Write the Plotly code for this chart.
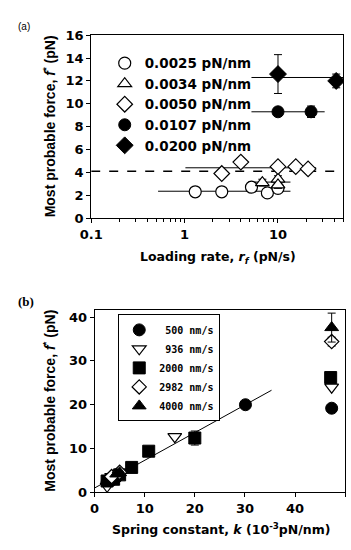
import plotly.graph_objects as go

W, H = 351, 550

# ---------------- Panel (a) data ----------------
a_names = ["0.0025 pN/nm", "0.0034 pN/nm", "0.0050 pN/nm", "0.0107 pN/nm", "0.0200 pN/nm"]
a1_x = [1.3, 2.5, 5.2, 7.7, 10.0]
a1_y = [2.3, 2.3, 2.7, 2.2, 2.6]
a1_e = [0.2, 0.2, 0.2, 0.3, 0.3]
a2_x = [6.8, 10.0, 10.0]
a2_y = [3.1, 3.4, 2.9]
a2_e = [0.3, 0.3, 0.3]
a3_x = [2.5, 4.0, 10.0, 15.5, 21.0]
a3_y = [3.9, 4.9, 4.5, 4.5, 4.3]
a3_e = [0.2, 0.2, 0.2, 0.2, 0.2]
a4_x = [10.0, 22.6]
a4_y = [9.3, 9.3]
a4_e = [0.3, 0.5]
a5_x = [10.0, 42.0]
a5_y = [12.6, 12.0]
a5_e = [1.7, 0.6]

# mean lines (x-extent and level) per series
a1_line_x = [0.52, 13.6]
a1_line_y = [2.35, 2.35]
a2_line_x = [4.8, 13.6]
a2_line_y = [3.15, 3.15]
a3_line_x = [1.02, 25.6]
a3_line_y = [4.4, 4.4]
a4_line_x = [5.2, 31.6]
a4_line_y = [9.3, 9.3]
a5_line_x = [5.2, 50.0]
a5_line_y = [12.3, 12.3]
dash_x = [0.1, 50.0]
dash_y = [4.1, 4.1]

a_xticks = [0.1, 1, 10]
a_xticktext = ["0.1", "1", "10"]
a_yticks = [0, 2, 4, 6, 8, 10, 12, 14, 16]

# ---------------- Panel (b) data ----------------
b_names = [" 500 nm/s", " 936 nm/s", "2000 nm/s", "2982 nm/s", "4000 nm/s"]
b1_x = [2.5, 3.4, 4.4, 30.1, 47.3]
b1_y = [2.3, 2.8, 3.5, 20.0, 19.2]
b2_x = [2.5, 3.4, 16.0, 47.3]
b2_y = [1.4, 3.6, 12.7, 24.0]
b3_x = [2.5, 3.8, 5.0, 7.4, 10.8, 20.0, 47.1]
b3_y = [2.6, 3.0, 4.0, 5.7, 9.4, 12.4, 26.2]
b3_e = [0, 0, 0, 0, 0, 1.6, 0]
b4_x = [3.4, 5.0, 47.3]
b4_y = [3.6, 4.6, 34.4]
b4_e = [0, 0, 1.0]
b5_x = [4.4, 5.0, 47.3]
b5_y = [4.2, 4.5, 37.6]
b5_e = [0, 0, 3.3]
fit_x = [0.0, 35.3]
fit_y = [1.0, 23.3]

b_xticks = [0, 10, 20, 30, 40, 50]
b_yticks = [0, 10, 20, 30, 40]

# ---------------- layout helpers ----------------
def px_x(p):
    return p / W

def px_y(p):
    return 1 - p / H

BOLD_H = dict(family="DejaVu Sans", size=12.5, color="black", weight="bold")
TICK_F = dict(family="DejaVu Sans", size=13, color="black", weight="bold")
BOLD_V = dict(family="Liberation Sans", size=14, color="black", weight="bold")

fig = go.Figure()

def err(vals, w=3):
    return dict(type="data", array=vals, visible=True, color="black", thickness=1, width=w)

# panel (a) lines
for lx, ly in [(a1_line_x, a1_line_y), (a2_line_x, a2_line_y), (a3_line_x, a3_line_y),
               (a4_line_x, a4_line_y), (a5_line_x, a5_line_y)]:
    fig.add_trace(go.Scatter(x=lx, y=ly, mode="lines", line=dict(color="black", width=1),
                             showlegend=False, hoverinfo="skip", xaxis="x", yaxis="y"))
fig.add_trace(go.Scatter(x=dash_x, y=dash_y, mode="lines",
                         line=dict(color="black", width=1.5, dash="dash"),
                         showlegend=False, hoverinfo="skip", xaxis="x", yaxis="y"))

open_m = dict(color="white", line=dict(color="black", width=1.2))
a_specs = [
    (a1_x, a1_y, a1_e, "circle", 12, open_m),
    (a2_x, a2_y, a2_e, "triangle-up", 12, open_m),
    (a3_x, a3_y, a3_e, "diamond", 12, open_m),
    (a4_x, a4_y, a4_e, "circle", 12, dict(color="black", line=dict(color="black", width=1))),
    (a5_x, a5_y, a5_e, "diamond", 13, dict(color="black", line=dict(color="black", width=1))),
]
for name, (x, y, e, sym, size, m) in zip(a_names, a_specs):
    fig.add_trace(go.Scatter(x=x, y=y, mode="markers", name=name,
                             marker=dict(symbol=sym, size=size, **m),
                             error_y=err(e, 4), legend="legend",
                             xaxis="x", yaxis="y"))

# panel (b)
fig.add_trace(go.Scatter(x=fit_x, y=fit_y, mode="lines", line=dict(color="black", width=1),
                         showlegend=False, hoverinfo="skip", xaxis="x2", yaxis="y2"))
b_specs = [
    (b1_x, b1_y, None, "circle", 12, dict(color="black", line=dict(color="black", width=1))),
    (b2_x, b2_y, None, "triangle-down", 12, open_m),
    (b3_x, b3_y, b3_e, "square", 12, dict(color="black", line=dict(color="black", width=1))),
    (b4_x, b4_y, b4_e, "diamond", 11, open_m),
    (b5_x, b5_y, b5_e, "triangle-up", 12, dict(color="black", line=dict(color="black", width=1))),
]
for name, (x, y, e, sym, size, m) in zip(b_names, b_specs):
    kw = {}
    if e is not None:
        kw["error_y"] = err(e, 4)
    fig.add_trace(go.Scatter(x=x, y=y, mode="markers", name=name,
                             marker=dict(symbol=sym, size=size, **m),
                             legend="legend2", xaxis="x2", yaxis="y2", **kw))

minor_vals = [k * 10 ** e for e in (-1, 0, 1) for k in range(2, 10) if k * 10 ** e <= 50]

axis_common = dict(showline=True, linecolor="black", linewidth=1, mirror=True,
                   ticks="outside", ticklen=4, tickcolor="black", showgrid=False,
                   zeroline=False, tickfont=TICK_F)

fig.update_layout(
    width=W, height=H,
    margin=dict(l=0, r=0, t=0, b=0),
    paper_bgcolor="white", plot_bgcolor="white",
    xaxis=dict(domain=[px_x(82), px_x(343)], type="log", range=[-1, 1.699],
               tickvals=a_xticks, ticktext=a_xticktext,
               minor=dict(tickvals=minor_vals, ticks="outside", ticklen=3, tickcolor="black"),
               anchor="y", **axis_common),
    yaxis=dict(domain=[px_y(217), px_y(29)], range=[0, 16], tickvals=a_yticks,
               anchor="x", **axis_common),
    xaxis2=dict(domain=[px_x(85.5), px_x(345)], range=[0, 50], tickvals=b_xticks,
                anchor="y2", **axis_common),
    yaxis2=dict(domain=[px_y(499), px_y(312)], range=[0, 41.5], tickvals=b_yticks,
                anchor="x2", **axis_common),
    legend=dict(x=px_x(96), y=px_y(42), xanchor="left", yanchor="top",
                bgcolor="rgba(0,0,0,0)", borderwidth=0, tracegroupgap=0,
                font=dict(family="DejaVu Sans", size=13.5, color="black", weight="bold")),
    legend2=dict(x=px_x(110), y=px_y(316), xanchor="left", yanchor="top",
                 bgcolor="white", bordercolor="black", borderwidth=1, tracegroupgap=0,
                 font=dict(family="DejaVu Sans Mono", size=10, color="black", weight="bold")),
    showlegend=True,
)

ann = [
    dict(text="(a)", x=px_x(4), y=px_y(20), xanchor="left", yanchor="middle",
         font=dict(family="Liberation Sans", size=10, color="black")),
    dict(text="(b)", x=px_x(4), y=px_y(303), xanchor="left", yanchor="middle",
         font=dict(family="Liberation Serif", size=13, color="black", weight="bold")),
    dict(text="Most probable force, <i>f</i><sup>*</sup> (pN)", x=px_x(38), y=px_y(123),
         textangle=-90, xanchor="center", yanchor="middle", font=BOLD_V),
    dict(text="Most probable force, <i>f</i><sup>*</sup> (pN)", x=px_x(38), y=px_y(405),
         textangle=-90, xanchor="center", yanchor="middle", font=BOLD_V),
    dict(text="Loading rate, <i>r</i><sub><i>f</i></sub> (pN/s)", x=px_x(213), y=px_y(258),
         xanchor="center", yanchor="middle", font=BOLD_H),
    dict(text="Spring constant, <i>k</i> (10<sup>-3</sup>pN/nm)", x=px_x(216), y=px_y(537),
         xanchor="center", yanchor="middle", font=BOLD_H),
]
for a in ann:
    a.update(xref="paper", yref="paper", showarrow=False)
fig.update_layout(annotations=ann)

fig.write_html("out.html")
